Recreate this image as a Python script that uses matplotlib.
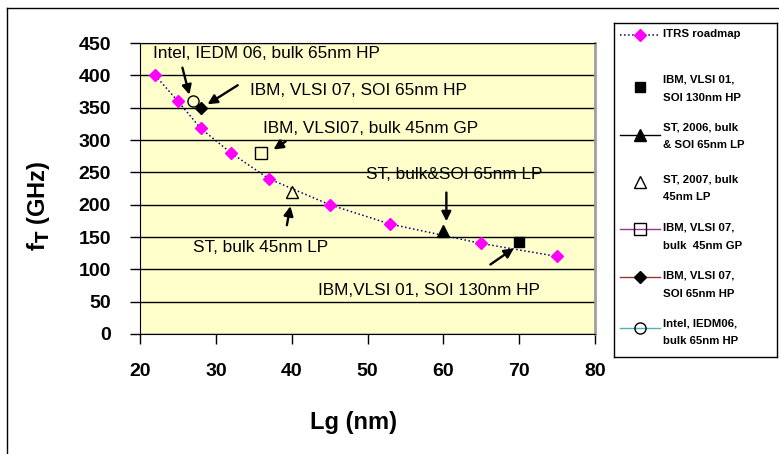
import matplotlib.pyplot as plt
from matplotlib.lines import Line2D

plt.rcParams['font.family'] = ['Liberation Sans', 'DejaVu Sans']

# ITRS roadmap
itrs_lg = [22, 25, 28, 32, 37, 45, 53, 65, 75]
itrs_ft = [400, 360, 318, 280, 240, 200, 170, 140, 120]

# individual published devices: (Lg nm, fT GHz)
ibm01_lg, ibm01_ft = [70], [142]
st06_lg, st06_ft = [60], [160]
st07_lg, st07_ft = [40], [220]
ibm07gp_lg, ibm07gp_ft = [36], [280]
ibm07soi_lg, ibm07soi_ft = [28], [350]
intel06_lg, intel06_ft = [27], [361]

# callouts: text, text position, arrow tail, arrow head
callout_text = ['Intel, IEDM 06, bulk 65nm HP', 'IBM, VLSI 07, SOI 65nm HP',
                'IBM, VLSI07, bulk 45nm GP', 'ST, bulk&SOI 65nm LP',
                'ST, bulk 45nm LP', 'IBM,VLSI 01, SOI 130nm HP']
callout_pos = [(21.7, 433), (34.5, 377), (36.2, 318), (49.8, 246), (27.0, 133), (43.5, 68)]
arrow_tail = [(25.5, 416), (33.2, 387), (39.5, 300), (60.4, 223), (39.3, 164), (65.9, 105)]
arrow_head = [(26.6, 366), (28.6, 353), (37.3, 283), (60.4, 170), (39.9, 202), (69.6, 135)]

legend_labels = ['ITRS roadmap', 'IBM, VLSI 01,\nSOI 130nm HP', 'ST, 2006, bulk\n& SOI 65nm LP',
                 'ST, 2007, bulk\n45nm LP', 'IBM, VLSI 07,\nbulk  45nm GP', 'IBM, VLSI 07,\nSOI 65nm HP',
                 'Intel, IEDM06,\nbulk 65nm HP']

W, H = 779, 454
fig = plt.figure(figsize=(W / 100, H / 100), dpi=100)
ax = fig.add_axes([140 / W, 1 - 334 / H, 455 / W, 291 / H])
ax.set_facecolor('#FFFFCC')

styles = [
    dict(marker='D', color='#000080', ls=':', lw=1.1, mfc='#FF00FF', mec='#FF00FF', ms=6.5),
    dict(marker='s', color='black', ls='none', mfc='black', mec='black', ms=7),
    dict(marker='^', color='black', ls='-', lw=1, mfc='black', mec='black', ms=8),
    dict(marker='^', color='black', ls='none', mfc='none', mec='black', ms=8),
    dict(marker='s', color='#993399', ls='-', lw=1, mfc='none', mec='black', ms=8),
    dict(marker='D', color='#993333', ls='-', lw=1, mfc='black', mec='black', ms=6),
    dict(marker='o', color='#4DB3B3', ls='-', lw=1, mfc='none', mec='black', ms=8),
]
series = [(itrs_lg, itrs_ft), (ibm01_lg, ibm01_ft), (st06_lg, st06_ft), (st07_lg, st07_ft),
          (ibm07gp_lg, ibm07gp_ft), (ibm07soi_lg, ibm07soi_ft), (intel06_lg, intel06_ft)]
for (xs, ys), st in zip(series, styles):
    ax.plot(xs, ys, zorder=3, **st)

for txt, pos, tail, head in zip(callout_text, callout_pos, arrow_tail, arrow_head):
    ax.text(pos[0], pos[1], txt, fontsize=12.4, va='center', ha='left')
    ax.annotate('', xy=head, xytext=tail,
                arrowprops=dict(arrowstyle='-|>', color='black', lw=1.7, mutation_scale=14))

ax.set_xlim(20, 80)
ax.set_ylim(0, 450)
ax.set_xticks(range(20, 81, 10))
ax.set_yticks(range(0, 451, 50))
ax.yaxis.grid(True, color='black', lw=1)
ax.set_axisbelow(True)
ax.spines['right'].set_color('#A0A0A0')
ax.spines['right'].set_linewidth(2)
ax.tick_params(direction='out', length=7, width=1, pad=14, labelsize=14)
for lab in ax.get_xticklabels() + ax.get_yticklabels():
    lab.set_fontweight('bold')
ax.set_xlabel('Lg (nm)', fontsize=17, fontweight='bold', va='center')
ax.set_ylabel('f$_\\mathbf{T}$ (GHz)', fontsize=17, fontweight='bold', va='center')
ax.xaxis.set_label_coords((353 - 140) / 455, -(423 - 334) / 291)
ax.yaxis.set_label_coords((39 - 140) / 455, (334 - 206) / 291)

# outer frame (left and top edges visible)
fig.add_artist(Line2D([7 / W, 7 / W], [0, 1 - 8 / H], color='black', lw=1))
fig.add_artist(Line2D([7 / W, 1], [1 - 8 / H, 1 - 8 / H], color='black', lw=1))

# legend box drawn in pixel-like coordinates
lax = fig.add_axes([614 / W, 1 - 357 / H, 163 / W, 334 / H])
lax.set_xlim(0, 163)
lax.set_ylim(334, 0)
lax.set_xticks([])
lax.set_yticks([])
for sp in lax.spines.values():
    sp.set_linewidth(1)
text_y = [12, 58, 105, 157, 206, 254, 301]
mark_y = [12, 64, 112, 159, 206, 254, 305]
for lbl, ty, my, st in zip(legend_labels, text_y, mark_y, styles):
    s = dict(st)
    lax.plot([6, 46], [my, my], **dict(s, marker='None'))
    lax.plot([26], [my], **dict(s, ls='none'))
    lax.text(49, ty - 6, lbl, fontsize=8.2, fontweight='bold', va='top', ha='left',
             linespacing=2.0)

fig.savefig('out.png', dpi=100)
